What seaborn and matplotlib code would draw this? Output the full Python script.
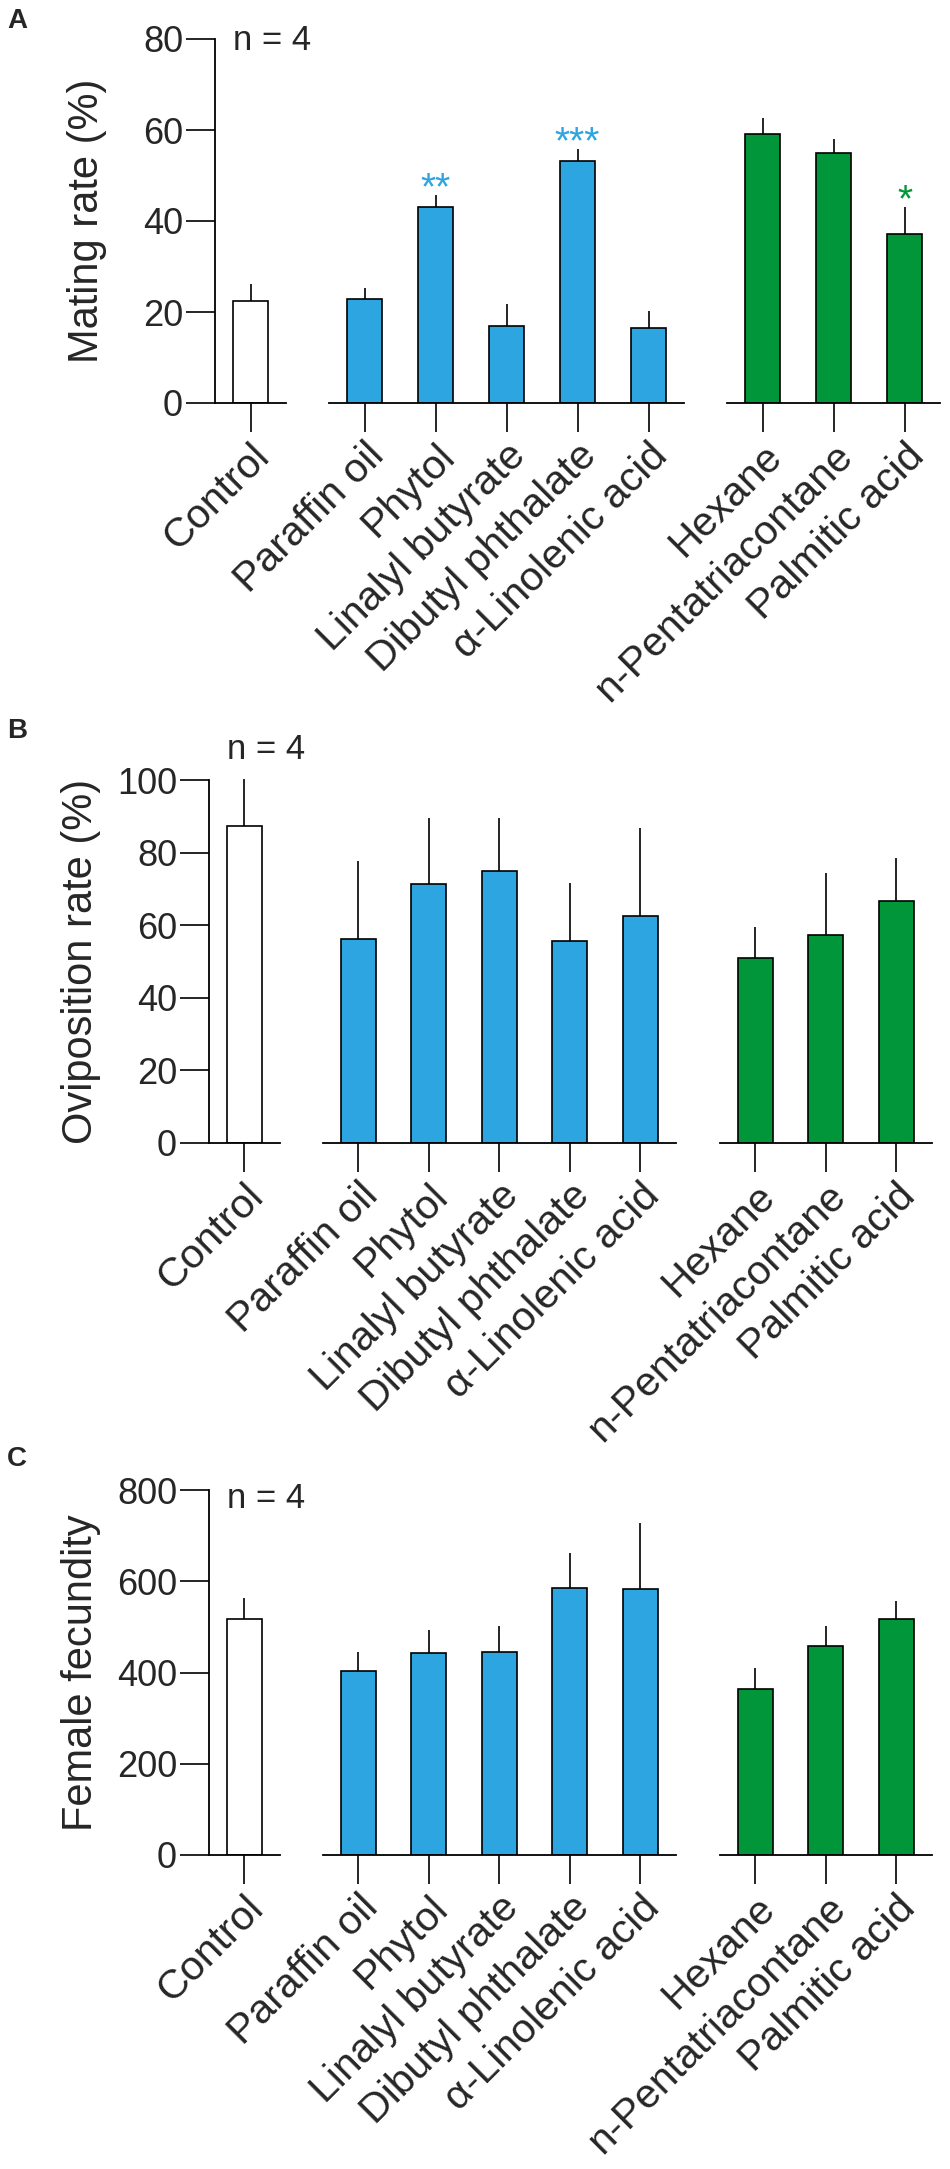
import matplotlib
matplotlib.use("Agg")
import matplotlib.pyplot as plt
import matplotlib.transforms as mtransforms
import seaborn as sns
import pandas as pd
import numpy as np

# treatments, split in three groups on the x axis
control_labels = ["Control"]
blue_labels = ["Paraffin oil", "Phytol", "Linalyl butyrate", "Dibutyl phthalate", "α-Linolenic acid"]
green_labels = ["Hexane", "n-Pentatriacontane", "Palmitic acid"]

# order: Control, 5 blue, 3 green
mating_mean = [22.5, 22.9, 43.1, 16.9, 53.2, 16.5, 59.1, 54.9, 37.1]
mating_err = [3.7, 2.4, 2.6, 4.9, 2.6, 3.7, 3.5, 3.1, 6.0]
mating_stars = ["", "", "**", "", "***", "", "", "", "*"]

ovi_mean = [87.3, 56.2, 71.3, 74.9, 55.6, 62.5, 51.0, 57.3, 66.7]
ovi_err = [13.0, 21.5, 18.2, 14.6, 15.9, 24.3, 8.5, 17.1, 11.8]
ovi_stars = [""] * 9

fec_mean = [518, 404, 442, 444, 585, 582, 363, 457, 518]
fec_err = [45, 42, 52, 57, 77, 145, 46, 46, 38]
fec_stars = [""] * 9

BLUE = "#2DA5E0"
GREEN = "#009639"

sns.set_theme(style="ticks")
plt.rcParams["font.family"] = ["Liberation Sans", "DejaVu Sans"]

W, H = 950, 2169
fig = plt.figure(figsize=(W / 100, H / 100), dpi=100)

panels = [
    dict(letter="A", letter_top=8, ylabel="Mating rate (%)", ylim=(0, 80), yticks=[0, 20, 40, 60, 80],
         mean=mating_mean, err=mating_err, stars=mating_stars,
         top=39, bottom=403, lefts=[215, 329, 727], unit=71, label_right=107, n_y=0.997),
    dict(letter="B", letter_top=718, ylabel="Oviposition rate (%)", ylim=(0, 100), yticks=[0, 20, 40, 60, 80, 100],
         mean=ovi_mean, err=ovi_err, stars=ovi_stars,
         top=780, bottom=1143, lefts=[209, 323, 720], unit=70.5, label_right=101, n_y=1.083),
    dict(letter="C", letter_top=1446, ylabel="Female fecundity", ylim=(0, 800), yticks=[0, 200, 400, 600, 800],
         mean=fec_mean, err=fec_err, stars=fec_stars,
         top=1490, bottom=1855, lefts=[209, 323, 720], unit=70.5, label_right=101, n_y=0.978),
]

groups = [(control_labels, "white", "black"), (blue_labels, BLUE, BLUE), (green_labels, GREEN, GREEN)]

for p in panels:
    start = 0
    axes = []
    for gi, (labels, color, star_color) in enumerate(groups):
        n = len(labels)
        means = p["mean"][start:start + n]
        errs = p["err"][start:start + n]
        stars = p["stars"][start:start + n]
        start += n

        rect = [p["lefts"][gi] / W, 1 - p["bottom"] / H,
                n * p["unit"] / W, (p["bottom"] - p["top"]) / H]
        ax = fig.add_axes(rect)
        ax.set_facecolor("none")
        axes.append(ax)
        df = pd.DataFrame({"treatment": labels, "value": means})
        sns.barplot(data=df, x="treatment", y="value", color=color, saturation=1,
                    edgecolor="black", linewidth=1.2, width=0.5, errorbar=None, ax=ax)
        ax.errorbar(np.arange(n), means, yerr=[np.zeros(n), errs], fmt="none",
                    ecolor="black", elinewidth=1.2, capsize=0, zorder=1, clip_on=False)
        for i, s in enumerate(stars):
            if s:
                ax.annotate(s, (i, means[i] + errs[i]), xytext=(0, 4), textcoords="offset points",
                            ha="center", va="center", fontsize=28, color=star_color)

        ax.set_xlim(-0.5, n - 0.5)
        ax.set_ylim(*p["ylim"])
        ax.set_xlabel("")
        ax.set_ylabel("")
        sns.despine(ax=ax, left=(gi > 0))
        for sp in ax.spines.values():
            sp.set_linewidth(1.3)
            sp.set_color("black")
        ax.tick_params(axis="x", length=21, width=1.2, pad=3, labelsize=29.5, color="black")
        if gi == 0:
            ax.set_yticks(p["yticks"])
            ax.tick_params(axis="y", length=21, width=1.2, pad=2, labelsize=26, color="black")
        else:
            ax.set_yticks([])
            ax.tick_params(axis="y", left=False, labelleft=False)
        plt.setp(ax.get_xticklabels(), rotation=45, ha="right", va="top", rotation_mode="anchor")

    ax0 = axes[0]
    ax0.set_ylabel(p["ylabel"], fontsize=30)
    ax0.yaxis.set_label_coords(p["label_right"] / W, 0.5,
                               transform=mtransforms.blended_transform_factory(fig.transFigure, ax0.transAxes))
    ax0.text(18 / p["unit"], p["n_y"], "n = 4", transform=ax0.transAxes, fontsize=25,
             ha="left", va="center", clip_on=False)
    fig.text(7 / W, 1 - p["letter_top"] / H, p["letter"], fontsize=20, fontweight="bold",
             ha="left", va="top")

fig.savefig("out.png", dpi=100)
